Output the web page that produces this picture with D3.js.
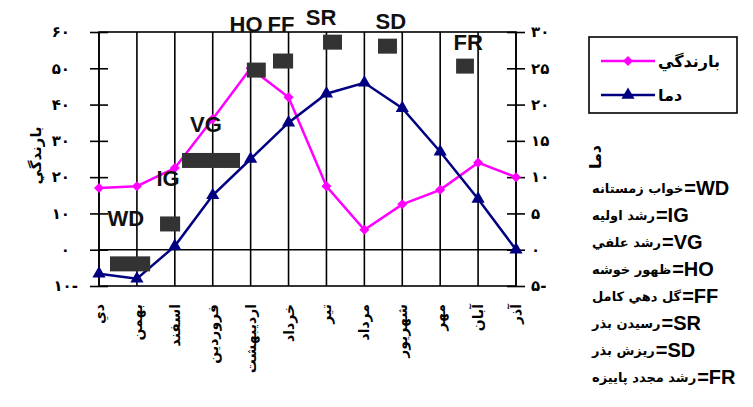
<!DOCTYPE html>
<html>
<head>
<meta charset="utf-8">
<script src="https://cdn.jsdelivr.net/npm/d3@7"></script>
<style>
    body { margin: 0; background: #fff; }
    svg { display: block; }
    .axis path { display: none; }
    .axis line { stroke: #000; stroke-width: 1.6; }
    .axis text { font-family: "DejaVu Sans", sans-serif; font-weight: bold; font-size: 15px; fill: #000; }
</style>
</head>
<body>
<div id="chart"></div>
<script>
//
// rainfall / temperature chart with growth stages
//

const _marginLeft = 99;
const _marginTop = 32;
const _plotWidth = 417;
const _plotHeight = 254;

var months = ['دي', 'بهمن', 'اسفند', 'فروردين', 'ارديبهشت', 'خرداد', 'تير', 'مرداد', 'شهريور', 'مهر', 'آبان', 'آذر'];
var rain = [17, 17.5, 22.5, 36, 50, 42, 17.5, 5.5, 12.5, 16.5, 24, 20];
var temp = [-3.3, -4, 0.5, 7.5, 12.5, 17.5, 21.5, 23, 19.5, 13.5, 7, 0];

var leftTicks = [-10, 0, 10, 20, 30, 40, 50, 60];
var rightTicks = [-5, 0, 5, 10, 15, 20, 25, 30];

// growth stages: span in month index, level on the rainfall axis
var stageCodes = ['WD', 'IG', 'VG', 'HO', 'FF', 'SR', 'SD', 'FR'];
var stageNames = ['خواب زمستانه', 'رشد اوليه', 'رشد علفي', 'ظهور خوشه', 'گل دهي كامل', 'رسيدن بذر', 'ريزش بذر', 'رشد مجدد پاييزه'];
var stageStart = [0.29, 1.61, 2.19, 3.9, 4.59, 5.91, 7.36, 9.42];
var stageEnd = [1.35, 2.14, 3.72, 4.4, 5.12, 6.41, 7.86, 9.89];
var stageLevel = [-3.9, 7.1, 24.6, 49.5, 52, 57.2, 56.1, 50.6];
var stageLabelPos = [0.71, 1.82, 2.82, 3.88, 4.8, 5.86, 7.7, 9.74];
var stageLabelLevel = [8.7, 19.5, 34.6, 62.2, 62.2, 64.1, 63, 57.2];

function faNum(v) {
    var s = String(Math.abs(v)).replace(/\d/g, function (d) { return '۰۱۲۳۴۵۶۷۸۹'[d]; });
    return v < 0 ? s + '-' : s;
}

var svg = d3.select("#chart")
    .append("svg")
    .attr("width", 753)
    .attr("height", 407);

var x = d3.scalePoint().domain(months).range([_marginLeft, _marginLeft + _plotWidth]);
var xi = d3.scaleLinear().domain([0, months.length - 1]).range([_marginLeft, _marginLeft + _plotWidth]);
var yL = d3.scaleLinear().domain([-10, 60]).range([_marginTop + _plotHeight, _marginTop]);
var yR = d3.scaleLinear().domain([-5, 30]).range([_marginTop + _plotHeight, _marginTop]);

// vertical grid at each month
svg.append("g")
    .selectAll("line")
    .data(months)
    .enter()
    .append("line")
    .attr("x1", function (d) { return x(d); })
    .attr("x2", function (d) { return x(d); })
    .attr("y1", _marginTop)
    .attr("y2", _marginTop + _plotHeight)
    .attr("stroke", "#000")
    .attr("stroke-width", 1.6);

// zero line and frame
svg.append("line")
    .attr("x1", _marginLeft).attr("x2", _marginLeft + _plotWidth)
    .attr("y1", yL(0)).attr("y2", yL(0))
    .attr("stroke", "#000").attr("stroke-width", 1.6);

svg.append("rect")
    .attr("x", _marginLeft).attr("y", _marginTop)
    .attr("width", _plotWidth).attr("height", _plotHeight)
    .attr("fill", "none").attr("stroke", "#000").attr("stroke-width", 1.6);

// axes
var leftAxis = svg.append("g")
    .attr("class", "axis")
    .attr("transform", "translate(" + _marginLeft + ",0)")
    .call(d3.axisLeft(yL).tickValues(leftTicks).tickSizeInner(9).tickSizeOuter(0).tickPadding(12).tickFormat(faNum));
leftAxis.selectAll(".tick line").attr("x1", 9);
// positive labels leave room for the trailing minus
leftAxis.selectAll(".tick text").attr("dx", function (d) { return d < 0 ? 0 : -8; });

var rightAxis = svg.append("g")
    .attr("class", "axis")
    .attr("transform", "translate(" + (_marginLeft + _plotWidth) + ",0)")
    .call(d3.axisRight(yR).tickValues(rightTicks).tickSizeInner(9).tickSizeOuter(0).tickPadding(6).tickFormat(faNum));
rightAxis.selectAll(".tick line").attr("x1", -9);

// month labels, vertical
svg.append("g")
    .selectAll("text")
    .data(months)
    .enter()
    .append("text")
    .attr("transform", function (d) { return "translate(" + x(d) + "," + (_marginTop + _plotHeight + 18) + ") rotate(-90)"; })
    .attr("text-anchor", "end")
    .attr("dominant-baseline", "central")
    .style("font-family", "DejaVu Sans, sans-serif")
    .style("font-weight", "bold")
    .style("font-size", "14px")
    .text(function (d) { return d; });

// axis titles
svg.append("text")
    .attr("transform", "translate(36," + yL(26) + ") rotate(-90)")
    .attr("text-anchor", "middle")
    .attr("dominant-baseline", "central")
    .style("font-family", "DejaVu Sans, sans-serif")
    .style("font-weight", "bold")
    .style("font-size", "15px")
    .text("بارندگي");

svg.append("text")
    .attr("transform", "translate(595,157) rotate(-90)")
    .attr("text-anchor", "middle")
    .attr("dominant-baseline", "central")
    .style("font-family", "DejaVu Sans, sans-serif")
    .style("font-weight", "bold")
    .style("font-size", "16px")
    .text("دما");

// series
var rainLine = d3.line()
    .x(function (d, i) { return x(months[i]); })
    .y(function (d) { return yL(d); });
var tempLine = d3.line()
    .x(function (d, i) { return x(months[i]); })
    .y(function (d) { return yR(d); });

svg.append("path")
    .datum(rain)
    .attr("d", rainLine)
    .attr("fill", "none")
    .attr("stroke", "#ff00ff")
    .attr("stroke-width", 2.5);

svg.append("g")
    .selectAll("path")
    .data(rain)
    .enter()
    .append("path")
    .attr("d", d3.symbol().type(d3.symbolDiamond2).size(64))
    .attr("transform", function (d, i) { return "translate(" + x(months[i]) + "," + yL(d) + ")"; })
    .attr("fill", "#ff00ff");

svg.append("path")
    .datum(temp)
    .attr("d", tempLine)
    .attr("fill", "none")
    .attr("stroke", "#000080")
    .attr("stroke-width", 2.5);

svg.append("g")
    .selectAll("path")
    .data(temp)
    .enter()
    .append("path")
    .attr("d", d3.symbol().type(d3.symbolTriangle).size(75))
    .attr("transform", function (d, i) { return "translate(" + x(months[i]) + "," + yR(d) + ")"; })
    .attr("fill", "#000080");

// growth stage bars and labels
svg.append("g")
    .selectAll("rect")
    .data(stageCodes)
    .enter()
    .append("rect")
    .attr("x", function (d, i) { return xi(stageStart[i]); })
    .attr("width", function (d, i) { return xi(stageEnd[i]) - xi(stageStart[i]); })
    .attr("y", function (d, i) { return yL(stageLevel[i]) - 7.5; })
    .attr("height", 15)
    .attr("fill", "#333");

svg.append("g")
    .selectAll("text")
    .data(stageCodes)
    .enter()
    .append("text")
    .attr("x", function (d, i) { return xi(stageLabelPos[i]); })
    .attr("y", function (d, i) { return yL(stageLabelLevel[i]); })
    .attr("text-anchor", "middle")
    .attr("dominant-baseline", "central")
    .style("font-family", "Liberation Sans, Arial, sans-serif")
    .style("font-weight", "bold")
    .style("font-size", "22px")
    .attr("fill", "#111")
    .text(function (d) { return d; });

// series legend
var legend = svg.append("g").attr("transform", "translate(589,37)");
legend.append("rect")
    .attr("width", 148).attr("height", 76)
    .attr("fill", "#fff").attr("stroke", "#000").attr("stroke-width", 1.6);

var legendItems = [
    { name: 'بارندگي', color: '#ff00ff', symbol: d3.symbolDiamond2, size: 64 },
    { name: 'دما', color: '#000080', symbol: d3.symbolTriangle, size: 75 }
];
legendItems.forEach(function (item, idx) {
    var yy = 24 + idx * 34;
    legend.append("line")
        .attr("x1", 12).attr("x2", 66).attr("y1", yy).attr("y2", yy)
        .attr("stroke", item.color).attr("stroke-width", 2.5);
    legend.append("path")
        .attr("d", d3.symbol().type(item.symbol).size(item.size))
        .attr("transform", "translate(39," + yy + ")")
        .attr("fill", item.color);
    legend.append("text")
        .attr("x", 69).attr("y", yy)
        .attr("dominant-baseline", "central")
        .style("font-family", "DejaVu Sans, sans-serif")
        .style("font-weight", "bold")
        .style("font-size", "16px")
        .text(item.name);
});

// stage key
var key = svg.append("g").attr("transform", "translate(592,0)");
stageCodes.forEach(function (code, idx) {
    var yy = 188 + idx * 27;
    var t = key.append("text")
        .attr("x", 0).attr("y", yy)
        .attr("dominant-baseline", "central")
        .style("font-family", "DejaVu Sans, sans-serif")
        .style("font-weight", "bold")
        .style("font-size", "13px")
        .text(stageNames[idx]);
    var w = t.node().getComputedTextLength();
    key.append("text")
        .attr("x", w + 1).attr("y", yy)
        .attr("dominant-baseline", "central")
        .style("font-family", "Liberation Sans, Arial, sans-serif")
        .style("font-weight", "bold")
        .style("font-size", "20px")
        .text("=" + code);
});
</script>
</body>
</html>
